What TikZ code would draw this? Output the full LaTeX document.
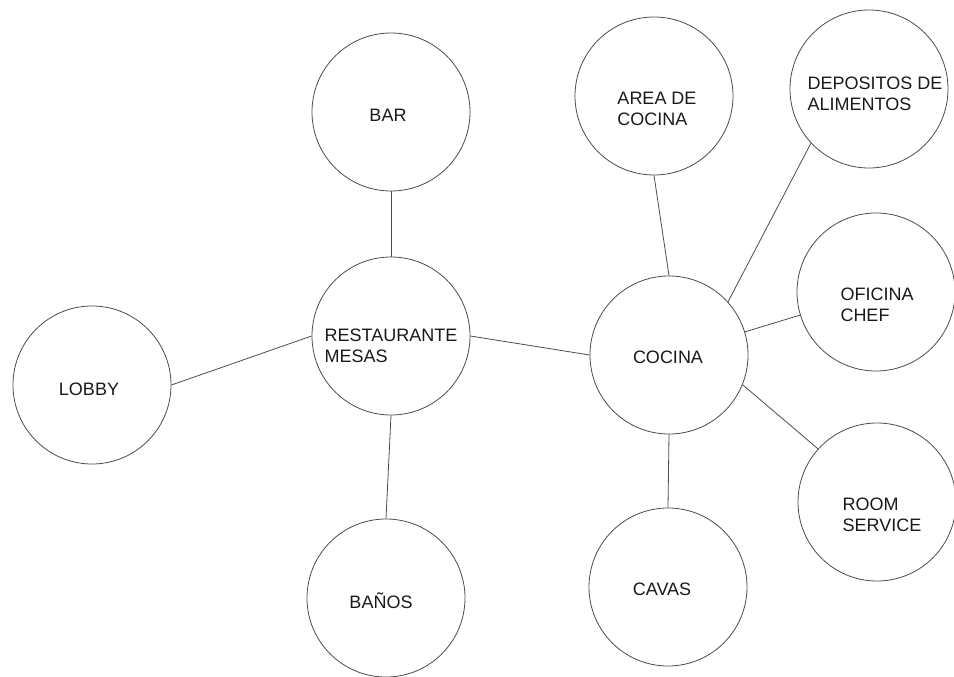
\documentclass[tikz,border=0pt]{standalone}
\usepackage{fontspec}
\setmainfont{Liberation Sans}
\begin{document}
\begin{tikzpicture}[x=1pt,y=-1pt,
  room/.style={circle,draw=black!70,line width=0.8pt,minimum size=158pt,inner sep=0pt},
  lbl/.style={font=\fontsize{18}{21}\selectfont,text=black!90,align=left,inner sep=0pt},
  link/.style={draw=black!70,line width=0.8pt}]
\useasboundingbox (0,0) rectangle (954,677);
% circles
\node[room] (bar) at (391,112) {};
\node[room] (rest) at (391,336) {};
\node[room] (lobby) at (92,385) {};
\node[room] (banos) at (386,598) {};
\node[room] (cocina) at (669,355) {};
\node[room] (area) at (654,96) {};
\node[room] (dep) at (869,89) {};
\node[room] (ofi) at (876,292) {};
\node[room] (rooms) at (877,502) {};
\node[room] (cavas) at (668,587) {};
% labels
\node[lbl] (tbar) at (388,115) {BAR};
\node[lbl] (trest) at (391,346) {RESTAURANTE\\MESAS};
\node[lbl] (tlobby) at (89,389) {LOBBY};
\node[lbl] (tbanos) at (381,601) {BAÑOS};
\node[lbl] (tcocina) at (668,357) {COCINA};
\node[lbl] (tarea) at (657,109) {AREA DE\\COCINA};
\node[lbl] (tdep) at (875,94) {DEPOSITOS DE\\ALIMENTOS};
\node[lbl] (tofi) at (877,305) {OFICINA\\CHEF};
\node[lbl] (trooms) at (882,515) {ROOM\\SERVICE};
\node[lbl] (tcavas) at (662,589) {CAVAS};
% connectors
\draw[link] (bar.south) -- (rest.north);
\draw[link] (rest.south) -- (banos.north);
\draw[link] (lobby.east) -- (rest.west);
\draw[link] (rest.east) -- (cocina.west);
\draw[link] (area.south) -- (cocina.north);
\draw[link] (dep.223) -- (cocina.42);
\draw[link] (ofi) -- (cocina);
\draw[link] (cocina.-22) -- (rooms.138);
\draw[link] (cocina.south) -- (cavas.north);
\end{tikzpicture}
\end{document}
